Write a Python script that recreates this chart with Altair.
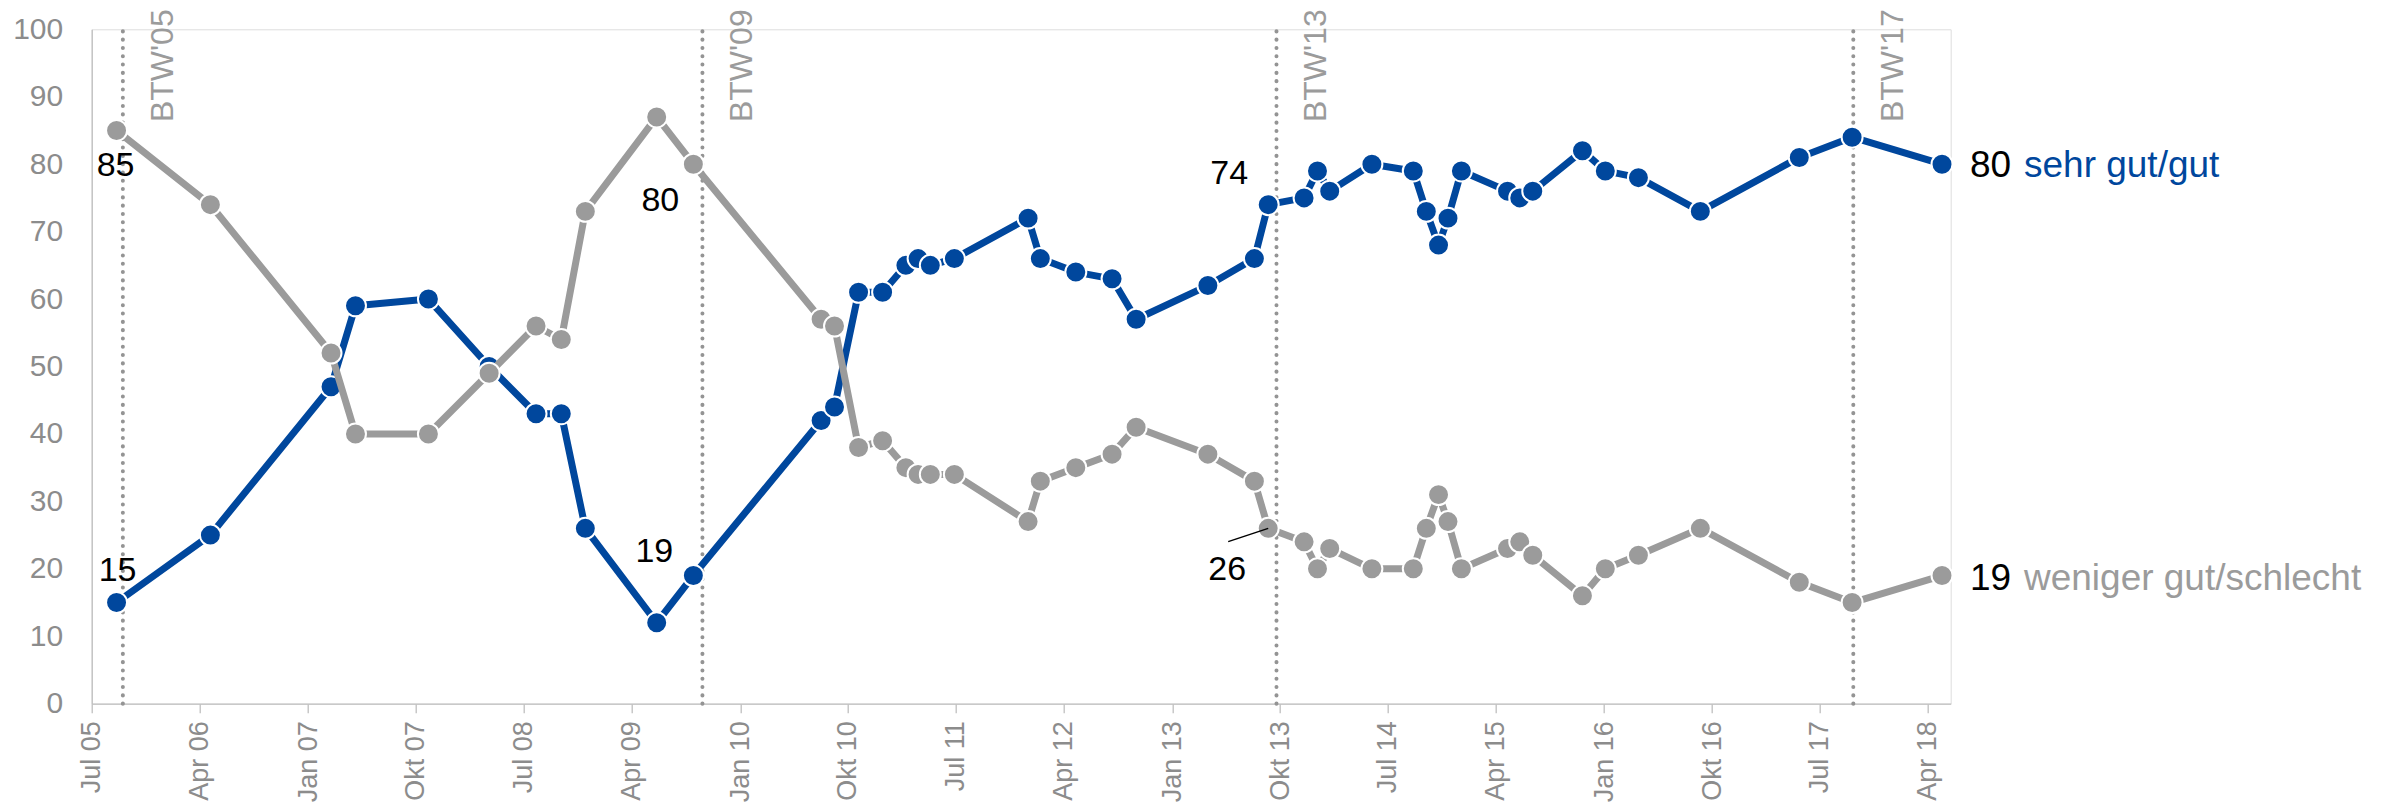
import altair as alt
import pandas as pd

# ---------------- data ----------------
dates = [
    "2005-09-02", "2006-04-28", "2007-02-28", "2007-05-01", "2007-11-02",
    "2008-04-04", "2008-08-01", "2008-10-04", "2008-12-04", "2009-06-03",
    "2009-09-04", "2010-07-25", "2010-08-28", "2010-10-28", "2010-12-28",
    "2011-02-25", "2011-03-28", "2011-04-28", "2011-06-28", "2012-01-01",
    "2012-02-01", "2012-05-01", "2012-08-01", "2012-10-01", "2013-04-01",
    "2013-07-28", "2013-09-01", "2013-12-01", "2014-01-04", "2014-02-04",
    "2014-05-22", "2014-09-04", "2014-10-07", "2014-11-07", "2014-12-01",
    "2015-01-04", "2015-05-01", "2015-06-01", "2015-07-04", "2015-11-07",
    "2016-01-04", "2016-03-28", "2016-09-01", "2017-05-10", "2017-09-21",
    "2018-05-07",
]
sehr_gut_gut = [15, 25, 47, 59, 60, 50, 43, 43, 26, 12,
                19, 42, 44, 61, 61, 65, 66, 65, 66, 72,
                66, 64, 63, 57, 62, 66, 74, 75, 79, 76,
                80, 79, 73, 68, 72, 79, 76, 75, 76, 82,
                79, 78, 73, 81, 84, 80]
weniger_gut_schlecht = [85, 74, 52, 40, 40, 49, 56, 54, 73, 87,
                        80, 57, 56, 38, 39, 35, 34, 34, 34, 27,
                        33, 35, 37, 41, 37, 33, 26, 24, 20, 23,
                        20, 20, 26, 31, 27, 20, 23, 24, 22, 16,
                        20, 22, 26, 18, 15, 19]
series_names = ["sehr gut/gut", "weniger gut/schlecht"]

election_dates = ["2005-09-18", "2009-09-27", "2013-09-22", "2017-09-24"]
election_labels = ["BTW'05", "BTW'09", "BTW'13", "BTW'17"]

tick_dates = ["2005-07-01", "2006-04-01", "2007-01-01", "2007-10-01", "2008-07-01",
              "2009-04-01", "2010-01-01", "2010-10-01", "2011-07-01", "2012-04-01",
              "2013-01-01", "2013-10-01", "2014-07-01", "2015-04-01", "2016-01-01",
              "2016-10-01", "2017-07-01", "2018-04-01"]
tick_labels = ["Jul 05", "Apr 06", "Jan 07", "Okt 07", "Jul 08", "Apr 09", "Jan 10",
               "Okt 10", "Jul 11", "Apr 12", "Jan 13", "Okt 13", "Jul 14", "Apr 15",
               "Jan 16", "Okt 16", "Jul 17", "Apr 18"]
y_ticks = [0, 10, 20, 30, 40, 50, 60, 70, 80, 90, 100]
x_domain = ["2005-07-01", "2018-05-29"]

# annotated points: (series index, point index)
annotated = [(1, 0), (0, 0), (1, 10), (0, 10), (0, 26), (1, 26)]

# ---------------- styling ----------------
BLUE = "#00479d"
GRAY = "#9b9b9b"
AXIS_GRAY = "#bfbfbf"
LABEL_GRAY = "#8c8c8c"
FONT = "Liberation Sans"
ann_offsets = [(-1, 45.5), (1, -21.5), (-33, 47), (-39, -14), (-39, -21), (-41, 51.5)]

values_by_series = [sehr_gut_gut, weniger_gut_schlecht]
df = pd.DataFrame({
    "date": dates * 2,
    "value": sehr_gut_gut + weniger_gut_schlecht,
    "series": [series_names[0]] * len(dates) + [series_names[1]] * len(dates),
})


def dt(s):
    y, m, d = map(int, s.split("-"))
    return alt.DateTime(year=y, month=m, date=d, utc=True)


label_expr = "{" + ",".join(f"'{d}':'{l}'" for d, l in zip(tick_dates, tick_labels)) + \
    "}[utcFormat(datum.value,'%Y-%m-%d')]"

x_enc = alt.X(
    "date:T",
    scale=alt.Scale(type="utc", domain=[dt(x_domain[0]), dt(x_domain[1])], nice=False),
    axis=alt.Axis(
        title=None, grid=False, values=[dt(d) for d in tick_dates], labelExpr=label_expr,
        labelAngle=270, labelAlign="right", labelBaseline="middle",
        labelFontSize=27, labelColor=LABEL_GRAY, labelFont=FONT, labelPadding=8,
        tickSize=9, tickColor=AXIS_GRAY, domainColor=AXIS_GRAY, tickWidth=1.3,
        domainWidth=1.3, labelOverlap=False, labelFlush=False,
    ),
)
y_enc = alt.Y(
    "value:Q",
    scale=alt.Scale(domain=[0, 100], nice=False),
    axis=alt.Axis(
        title=None, grid=False, values=y_ticks, ticks=False, tickSize=0, labelPadding=29,
        labelFontSize=30, labelColor=LABEL_GRAY, labelFont=FONT,
        domainColor=AXIS_GRAY, domainWidth=1.3,
    ),
)

base = alt.Chart(df).encode(x=x_enc, y=y_enc)

layers = []

# election lines
df_el = pd.DataFrame({"date": election_dates, "label": election_labels})
rules = alt.Chart(df_el).mark_rule(
    color="#949494", strokeWidth=4, strokeDash=[0.1, 8.2], strokeCap="round"
).encode(x="date:T", y=alt.datum(0), y2=alt.datum(100))
layers.append(rules)

for name, col in zip(series_names, [BLUE, GRAY]):
    sub = base.transform_filter(alt.datum.series == name)
    layers.append(sub.mark_line(color=col, strokeWidth=7, strokeJoin="round"))
    layers.append(sub.mark_point(filled=True, shape="circle", size=440, color=col,
                                 stroke="white", strokeWidth=2, opacity=1))

# leader line for "26"
si, pi = annotated[5]
df_lead = pd.DataFrame({"date": [dates[pi]], "value": [values_by_series[si][pi]]})
layers.append(alt.Chart(df_lead).mark_rule(color="black", strokeWidth=1.5, x2Offset=-40, y2Offset=13.3)
              .encode(x="date:T", y="value:Q", x2="date:T", y2="value:Q"))

# point annotations
for (si, pi), (dx, dy) in zip(annotated, ann_offsets):
    d = pd.DataFrame({"date": [dates[pi]], "value": [values_by_series[si][pi]],
                      "label": [str(values_by_series[si][pi])]})
    layers.append(alt.Chart(d).mark_text(
        font=FONT, fontSize=34, color="black", align="center", baseline="alphabetic",
        dx=dx, dy=dy).encode(x="date:T", y="value:Q", text="label:N"))

# end labels
last = len(dates) - 1
end_dy = [13, 14.5]
for si, (name, col) in enumerate(zip(series_names, [BLUE, GRAY])):
    d = pd.DataFrame({"date": [dates[last]], "value": [values_by_series[si][last]],
                      "num": [str(values_by_series[si][last])], "name": [name]})
    layers.append(alt.Chart(d).mark_text(
        font=FONT, fontSize=37, color="black", align="left", baseline="alphabetic",
        dx=28, dy=end_dy[si]).encode(x="date:T", y="value:Q", text="num:N"))
    layers.append(alt.Chart(d).mark_text(
        font=FONT, fontSize=37, color=col, align="left", baseline="alphabetic",
        dx=82, dy=end_dy[si]).encode(x="date:T", y="value:Q", text="name:N"))

# election labels
layers.append(alt.Chart(df_el).mark_text(
    font=FONT, fontSize=32, color=GRAY, angle=270, align="right", baseline="alphabetic",
    dy=50).encode(x="date:T", y=alt.value(-20), text="label:N"))

chart = alt.layer(*layers).properties(
    width=1859, height=674.4, autosize="none",
    padding={"left": 83.7, "top": 21.3, "right": 427, "bottom": 99},
).configure_view(stroke=None).configure(background="white")

chart.save("out.html", embed_options={"renderer": "svg", "actions": False})
